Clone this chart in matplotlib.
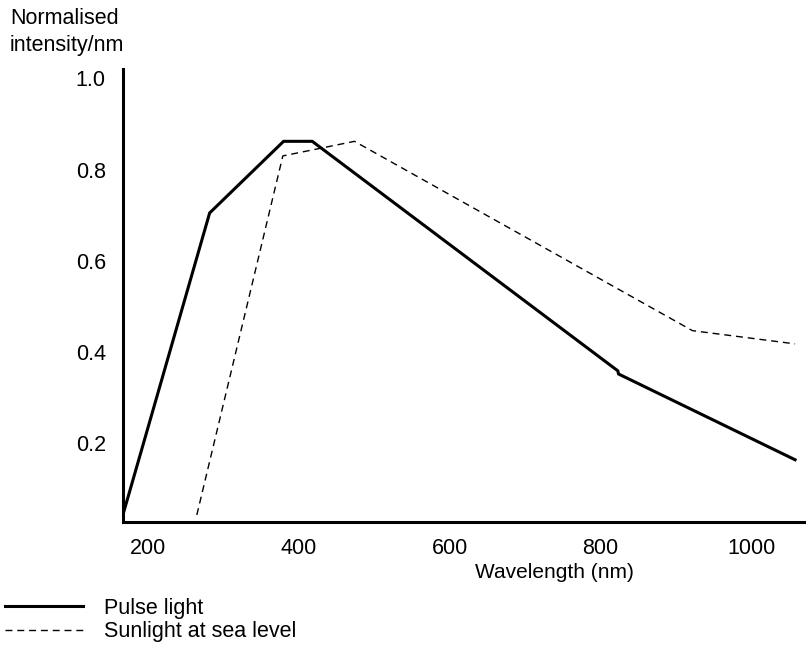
import matplotlib
matplotlib.use('Agg')
import matplotlib.pyplot as plt

plt.rcParams['font.family'] = ['Liberation Sans', 'DejaVu Sans']

# pulse light spectrum (solid)
pulse_nm = [167, 282, 380, 418, 823, 824, 1058]
pulse_val = [0.043, 0.705, 0.862, 0.862, 0.359, 0.352, 0.164]

# sunlight at sea level (dashed)
sun_nm = [265, 379, 474, 922, 1058]
sun_val = [0.043, 0.830, 0.862, 0.447, 0.418]

x_ticks = [200, 400, 600, 800, 1000]
y_ticks = [0.2, 0.4, 0.6, 0.8, 1.0]

fig = plt.figure(figsize=(8.06, 6.49), dpi=100)
ax = fig.add_axes([0.152, 0.196, 0.848, 0.698])

ax.plot(pulse_nm, pulse_val, color='black', lw=2.2, solid_joinstyle='miter',
        label='Pulse light')
ax.plot(sun_nm, sun_val, color='black', lw=1.0, dashes=(5, 3.5),
        label='Sunlight at sea level')

ax.set_xlim(166.5, 1072.5)
ax.set_ylim(0.028, 1.021)
ax.set_xticks(x_ticks)
ax.set_xticklabels([str(v) for v in x_ticks])
ax.set_yticks(y_ticks)
ax.set_yticklabels(['%.1f' % v for v in y_ticks])
ax.tick_params(length=0, labelsize=15.5)
ax.tick_params(axis='y', pad=12)
ax.tick_params(axis='x', pad=12)

for s in ['top', 'right']:
    ax.spines[s].set_visible(False)
for s in ['left', 'bottom']:
    ax.spines[s].set_linewidth(2.2)

fig.text(10 / 806, 1 - 8 / 649, 'Normalised\nintensity/nm', fontsize=15.5,
         ha='left', va='top', linespacing=1.4)
fig.text(554 / 806, 1 - 573 / 649, 'Wavelength (nm)', fontsize=15,
         ha='center', va='center')

fig.legend(loc='upper left', bbox_to_anchor=(5 / 806, 1 - 598 / 649),
           frameon=False, fontsize=15.5, handlelength=3.6, handletextpad=1.0,
           labelspacing=0.1, borderpad=0, borderaxespad=0, handleheight=0.7)

fig.savefig('out.png', dpi=100)
